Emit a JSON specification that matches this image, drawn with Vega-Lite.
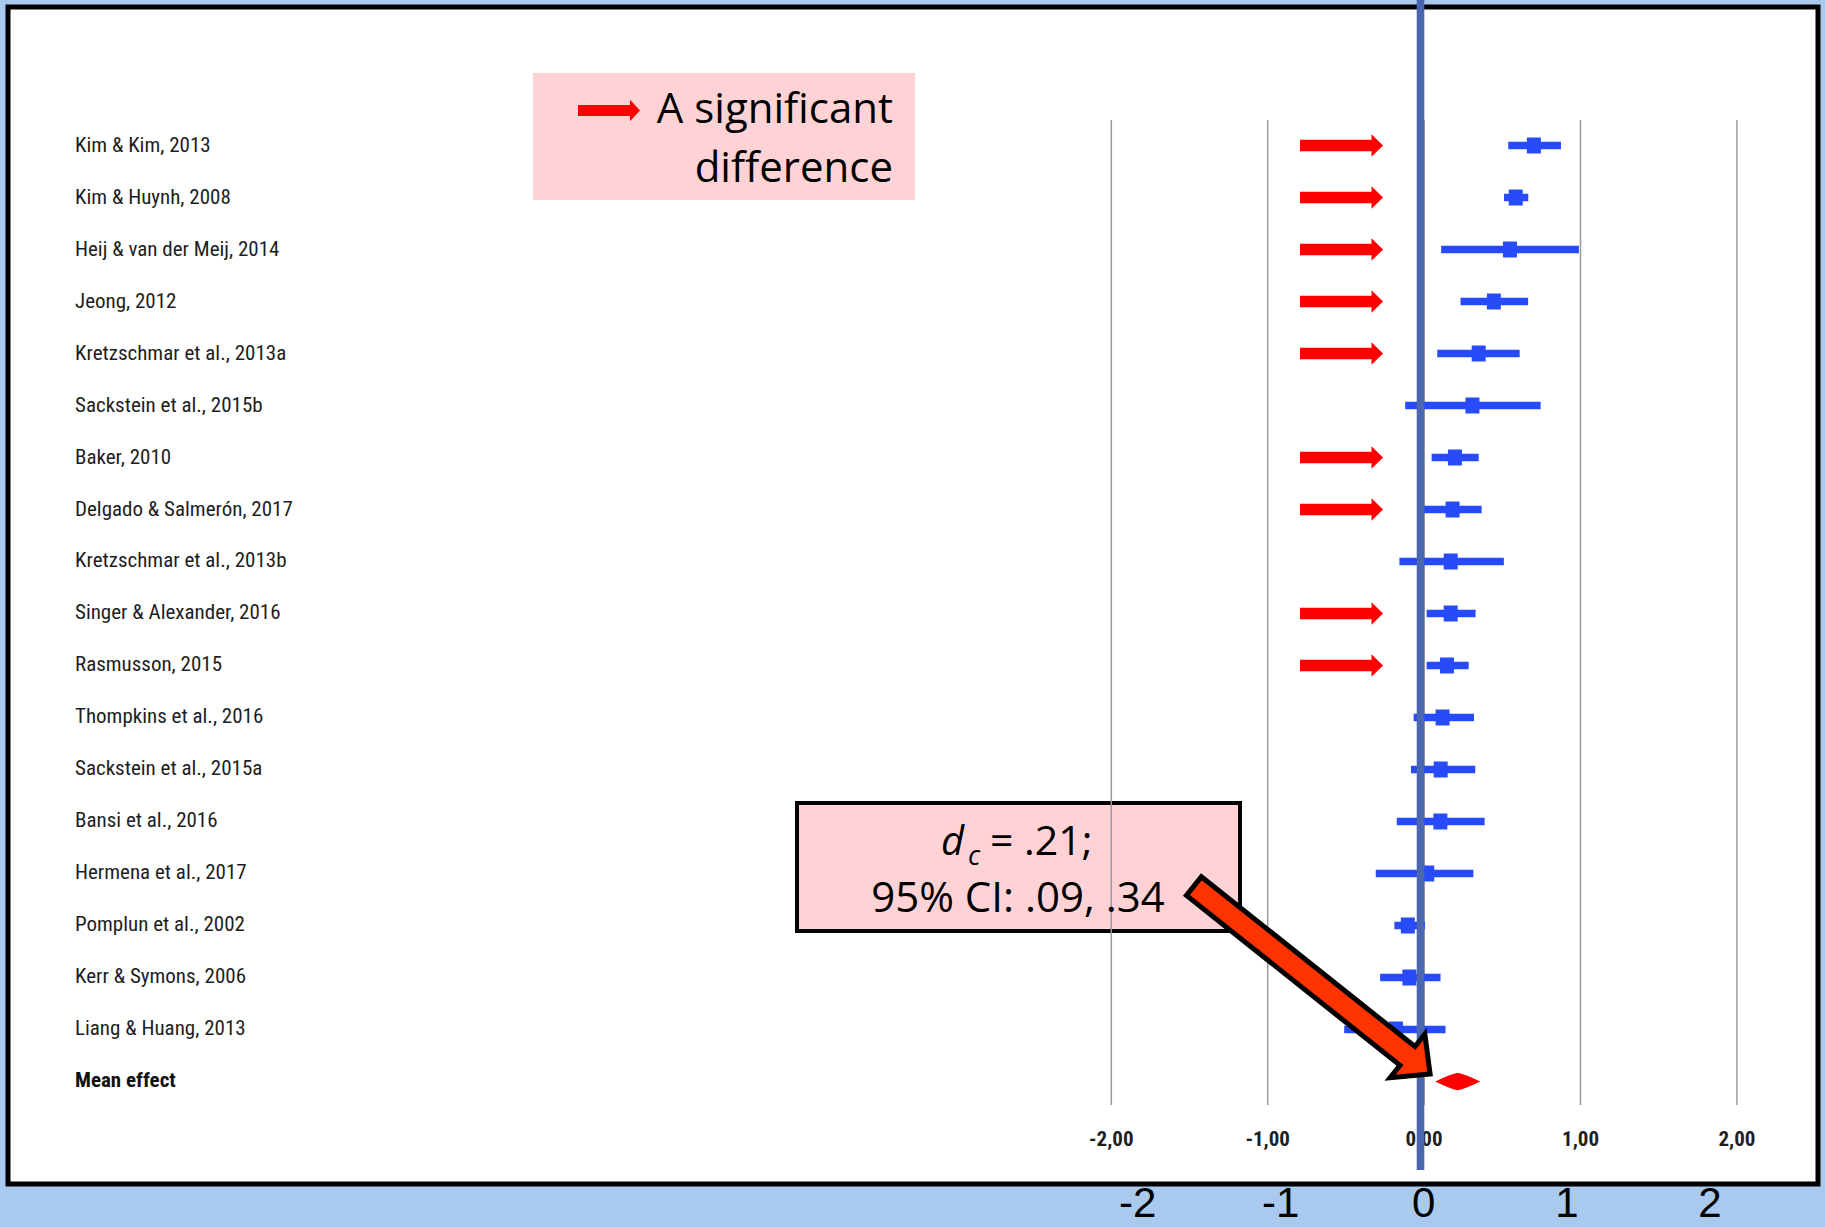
{
  "$schema": "https://vega.github.io/schema/vega-lite/v6.json",
  "width": 1810,
  "height": 1177,
  "autosize": {"type": "none"},
  "padding": {"left": 8, "top": 7, "right": 7, "bottom": 43},
  "background": "#a9caee",
  "config": {"view": {"fill": "white", "stroke": "black", "strokeWidth": 5}},
  "datasets": {
    "studies": [
      {"row": 0, "study": "Kim & Kim, 2013", "est": 0.702, "lo": 0.538, "hi": 0.875, "sig": true},
      {"row": 1, "study": "Kim & Huynh, 2008", "est": 0.586, "lo": 0.511, "hi": 0.666, "sig": true},
      {"row": 2, "study": "Heij & van der Meij, 2014", "est": 0.549, "lo": 0.109, "hi": 0.99, "sig": true},
      {"row": 3, "study": "Jeong, 2012", "est": 0.446, "lo": 0.233, "hi": 0.665, "sig": true},
      {"row": 4, "study": "Kretzschmar et al., 2013a", "est": 0.349, "lo": 0.084, "hi": 0.611, "sig": true},
      {"row": 5, "study": "Sackstein et al., 2015b", "est": 0.309, "lo": -0.121, "hi": 0.745, "sig": false},
      {"row": 6, "study": "Baker, 2010", "est": 0.197, "lo": 0.048, "hi": 0.349, "sig": true},
      {"row": 7, "study": "Delgado & Salmerón, 2017", "est": 0.182, "lo": 0.0, "hi": 0.368, "sig": true},
      {"row": 8, "study": "Kretzschmar et al., 2013b", "est": 0.17, "lo": -0.158, "hi": 0.51, "sig": false},
      {"row": 9, "study": "Singer & Alexander, 2016", "est": 0.17, "lo": 0.016, "hi": 0.329, "sig": true},
      {"row": 10, "study": "Rasmusson, 2015", "est": 0.146, "lo": 0.016, "hi": 0.285, "sig": true},
      {"row": 11, "study": "Thompkins et al., 2016", "est": 0.118, "lo": -0.067, "hi": 0.319, "sig": false},
      {"row": 12, "study": "Sackstein et al., 2015a", "est": 0.106, "lo": -0.084, "hi": 0.327, "sig": false},
      {"row": 13, "study": "Bansi et al., 2016", "est": 0.104, "lo": -0.175, "hi": 0.387, "sig": false},
      {"row": 14, "study": "Hermena et al., 2017", "est": 0.02, "lo": -0.309, "hi": 0.315, "sig": false},
      {"row": 15, "study": "Pomplun et al., 2002", "est": -0.104, "lo": -0.19, "hi": 0.006, "sig": false},
      {"row": 16, "study": "Kerr & Symons, 2006", "est": -0.094, "lo": -0.281, "hi": 0.105, "sig": false},
      {"row": 17, "study": "Liang & Huang, 2013", "est": -0.18, "lo": -0.511, "hi": 0.137, "sig": false}
    ],
    "mean": [{"row": 18, "study": "Mean effect", "est": 0.215, "lo": 0.074, "hi": 0.358}],
    "ticks": [
      {"tick": -2, "label": "-2,00"},
      {"tick": -1, "label": "-1,00"},
      {"tick": 0, "label": "0,00"},
      {"tick": 1, "label": "1,00"},
      {"tick": 2, "label": "2,00"}
    ],
    "outer": [
      {"v": -2, "label": "-2"},
      {"v": -1, "label": "-1"},
      {"v": 0, "label": "0"},
      {"v": 1, "label": "1"},
      {"v": 2, "label": "2"}
    ],
    "one": [{}]
  },
  "layer": [
    {
      "layer": [
        {
          "data": {"name": "one"},
          "mark": {"type": "rect", "fill": "#ffd3d5"},
          "encoding": {
            "x": {"datum": -5.6975, "type": "quantitative", "scale": {"domain": [-9.0543, 2.5185], "nice": false, "zero": false}, "axis": null},
            "x2": {"datum": -3.2551},
            "y": {"datum": -1.3942, "type": "quantitative", "scale": {"domain": [-2.6635, 19.9712], "reverse": true, "nice": false, "zero": false}, "axis": null},
            "y2": {"datum": 1.0481}
          }
        },
        {
          "data": {"name": "one"},
          "mark": {"type": "rect", "fill": "#ffd3d5", "stroke": "black", "strokeWidth": 4},
          "encoding": {
            "x": {"datum": -4.0096, "type": "quantitative", "scale": {"domain": [-9.0543, 2.5185], "nice": false, "zero": false}, "axis": null},
            "x2": {"datum": -1.1771},
            "y": {"datum": 12.6442, "type": "quantitative", "scale": {"domain": [-2.6635, 19.9712], "reverse": true, "nice": false, "zero": false}, "axis": null},
            "y2": {"datum": 15.1058}
          }
        },
        {
          "data": {"name": "ticks"},
          "mark": {"type": "rule", "color": "#9a9a9a", "strokeWidth": 1.5},
          "encoding": {
            "x": {"field": "tick", "type": "quantitative", "scale": {"domain": [-9.0543, 2.5185], "nice": false, "zero": false}, "axis": null},
            "y": {"datum": -0.4904, "type": "quantitative", "scale": {"domain": [-2.6635, 19.9712], "reverse": true, "nice": false, "zero": false}, "axis": null},
            "y2": {"datum": 18.4519}
          }
        },
        {
          "data": {"name": "ticks"},
          "mark": {"type": "text", "font": "Liberation Sans Narrow, Roboto Condensed, DejaVu Sans Condensed, sans-serif", "fontSize": 21, "fontWeight": "bold", "color": "#1e1e1e", "align": "center", "baseline": "middle"},
          "encoding": {
            "x": {"field": "tick", "type": "quantitative", "scale": {"domain": [-9.0543, 2.5185], "nice": false, "zero": false}, "axis": null},
            "y": {"datum": 19.125, "type": "quantitative", "scale": {"domain": [-2.6635, 19.9712], "reverse": true, "nice": false, "zero": false}, "axis": null},
            "text": {"field": "label"}
          }
        },
        {
          "data": {"name": "studies"},
          "mark": {"type": "rule", "color": "#284bfa", "strokeWidth": 7.5, "strokeCap": "butt"},
          "encoding": {
            "x": {"field": "lo", "type": "quantitative", "scale": {"domain": [-9.0543, 2.5185], "nice": false, "zero": false}, "axis": null},
            "x2": {"field": "hi"},
            "y": {"field": "row", "type": "quantitative", "scale": {"domain": [-2.6635, 19.9712], "reverse": true, "nice": false, "zero": false}, "axis": null}
          }
        },
        {
          "data": {"name": "studies"},
          "mark": {"type": "point", "shape": "M-0.875,-1L0.875,-1L0.875,1L-0.875,1Z", "filled": true, "size": 256, "color": "#284bfa", "opacity": 1},
          "encoding": {
            "x": {"field": "est", "type": "quantitative", "scale": {"domain": [-9.0543, 2.5185], "nice": false, "zero": false}, "axis": null},
            "y": {"field": "row", "type": "quantitative", "scale": {"domain": [-2.6635, 19.9712], "reverse": true, "nice": false, "zero": false}, "axis": null}
          }
        },
        {
          "data": {"name": "mean"},
          "mark": {"type": "point", "shape": "M-1,0Q-0.35,-0.32 0,-0.39Q0.35,-0.32 1,0Q0.35,0.32 0,0.39Q-0.35,0.32 -1,0Z", "filled": true, "size": 2025, "color": "#ff0000", "opacity": 1},
          "encoding": {
            "x": {"field": "est", "type": "quantitative", "scale": {"domain": [-9.0543, 2.5185], "nice": false, "zero": false}, "axis": null},
            "y": {"field": "row", "type": "quantitative", "scale": {"domain": [-2.6635, 19.9712], "reverse": true, "nice": false, "zero": false}, "axis": null}
          }
        },
        {
          "data": {"name": "studies"},
          "transform": [{"filter": "datum.sig"}],
          "mark": {"type": "point", "shape": "M-1,-0.141L0.723,-0.141L0.723,-0.273L1,0L0.723,0.273L0.723,0.141L-1,0.141Z", "filled": true, "size": 6889, "color": "#ff0000", "opacity": 1},
          "encoding": {
            "x": {"datum": -0.5281, "type": "quantitative", "scale": {"domain": [-9.0543, 2.5185], "nice": false, "zero": false}, "axis": null},
            "y": {"field": "row", "type": "quantitative", "scale": {"domain": [-2.6635, 19.9712], "reverse": true, "nice": false, "zero": false}, "axis": null}
          }
        },
        {
          "data": {"name": "one"},
          "mark": {"type": "point", "shape": "M-1,-0.177L0.677,-0.177L0.677,-0.35L1,0L0.677,0.35L0.677,0.177L-1,0.177Z", "filled": true, "size": 3844, "color": "#ff0000", "opacity": 1},
          "encoding": {
            "x": {"datum": -5.2116, "type": "quantitative", "scale": {"domain": [-9.0543, 2.5185], "nice": false, "zero": false}, "axis": null},
            "y": {"datum": -0.6731, "type": "quantitative", "scale": {"domain": [-2.6635, 19.9712], "reverse": true, "nice": false, "zero": false}, "axis": null}
          }
        },
        {
          "data": {"name": "one"},
          "mark": {"type": "rule", "color": "#4a66b0", "strokeWidth": 7.6, "strokeCap": "butt"},
          "encoding": {
            "x": {"datum": -0.023, "type": "quantitative", "scale": {"domain": [-9.0543, 2.5185], "nice": false, "zero": false}, "axis": null},
            "y": {"datum": -2.7981, "type": "quantitative", "scale": {"domain": [-2.6635, 19.9712], "reverse": true, "nice": false, "zero": false}, "axis": null},
            "y2": {"datum": 19.7019}
          }
        },
        {
          "data": {"name": "studies"},
          "mark": {"type": "text", "font": "Liberation Sans Narrow, Roboto Condensed, DejaVu Sans Condensed, sans-serif", "fontSize": 21, "color": "#1e1e1e", "align": "left", "baseline": "middle"},
          "encoding": {
            "x": {"datum": -8.626, "type": "quantitative", "scale": {"domain": [-9.0543, 2.5185], "nice": false, "zero": false}, "axis": null},
            "y": {"field": "row", "type": "quantitative", "scale": {"domain": [-2.6635, 19.9712], "reverse": true, "nice": false, "zero": false}, "axis": null},
            "text": {"field": "study"}
          }
        },
        {
          "data": {"name": "mean"},
          "mark": {"type": "text", "font": "Liberation Sans Narrow, Roboto Condensed, DejaVu Sans Condensed, sans-serif", "fontSize": 21, "fontWeight": "bold", "color": "#111111", "align": "left", "baseline": "middle"},
          "encoding": {
            "x": {"datum": -8.626, "type": "quantitative", "scale": {"domain": [-9.0543, 2.5185], "nice": false, "zero": false}, "axis": null},
            "y": {"field": "row", "type": "quantitative", "scale": {"domain": [-2.6635, 19.9712], "reverse": true, "nice": false, "zero": false}, "axis": null},
            "text": {"field": "study"}
          }
        },
        {
          "data": {"name": "one"},
          "mark": {"type": "text", "text": "A significant", "font": "Open Sans", "fontSize": 42, "color": "black", "align": "right", "baseline": "alphabetic"},
          "encoding": {
            "x": {"datum": -3.3958, "type": "quantitative", "scale": {"domain": [-9.0543, 2.5185], "nice": false, "zero": false}, "axis": null},
            "y": {"datum": -0.4269, "type": "quantitative", "scale": {"domain": [-2.6635, 19.9712], "reverse": true, "nice": false, "zero": false}, "axis": null}
          }
        },
        {
          "data": {"name": "one"},
          "mark": {"type": "text", "text": "difference", "font": "Open Sans", "fontSize": 42, "color": "black", "align": "right", "baseline": "alphabetic"},
          "encoding": {
            "x": {"datum": -3.3958, "type": "quantitative", "scale": {"domain": [-9.0543, 2.5185], "nice": false, "zero": false}, "axis": null},
            "y": {"datum": 0.6962, "type": "quantitative", "scale": {"domain": [-2.6635, 19.9712], "reverse": true, "nice": false, "zero": false}, "axis": null}
          }
        },
        {
          "data": {"name": "one"},
          "mark": {"type": "text", "text": "d", "font": "Open Sans", "fontStyle": "italic", "fontSize": 40, "color": "black", "align": "left", "baseline": "alphabetic"},
          "encoding": {
            "x": {"datum": -3.0889, "type": "quantitative", "scale": {"domain": [-9.0543, 2.5185], "nice": false, "zero": false}, "axis": null},
            "y": {"datum": 13.6442, "type": "quantitative", "scale": {"domain": [-2.6635, 19.9712], "reverse": true, "nice": false, "zero": false}, "axis": null}
          }
        },
        {
          "data": {"name": "one"},
          "mark": {"type": "text", "text": "c", "font": "Open Sans", "fontStyle": "italic", "fontSize": 27, "color": "black", "align": "left", "baseline": "alphabetic"},
          "encoding": {
            "x": {"datum": -2.9163, "type": "quantitative", "scale": {"domain": [-9.0543, 2.5185], "nice": false, "zero": false}, "axis": null},
            "y": {"datum": 13.8365, "type": "quantitative", "scale": {"domain": [-2.6635, 19.9712], "reverse": true, "nice": false, "zero": false}, "axis": null}
          }
        },
        {
          "data": {"name": "one"},
          "mark": {"type": "text", "text": "= .21;", "font": "Open Sans", "fontSize": 41, "color": "black", "align": "left", "baseline": "alphabetic"},
          "encoding": {
            "x": {"datum": -2.7756, "type": "quantitative", "scale": {"domain": [-9.0543, 2.5185], "nice": false, "zero": false}, "axis": null},
            "y": {"datum": 13.6442, "type": "quantitative", "scale": {"domain": [-2.6635, 19.9712], "reverse": true, "nice": false, "zero": false}, "axis": null}
          }
        },
        {
          "data": {"name": "one"},
          "mark": {"type": "text", "text": "95% CI: .09, .34", "font": "Open Sans", "fontSize": 42, "color": "black", "align": "center", "baseline": "alphabetic"},
          "encoding": {
            "x": {"datum": -2.5965, "type": "quantitative", "scale": {"domain": [-9.0543, 2.5185], "nice": false, "zero": false}, "axis": null},
            "y": {"datum": 14.7346, "type": "quantitative", "scale": {"domain": [-2.6635, 19.9712], "reverse": true, "nice": false, "zero": false}, "axis": null}
          }
        },
        {
          "data": {"name": "one"},
          "mark": {"type": "point", "shape": "M-1,-0.0795L0.8085,-0.0795L0.8085,-0.185L1,0L0.8085,0.185L0.8085,0.0795L-1,0.0795Z", "filled": true, "size": 91083, "angle": 38.5, "fill": "#ff3300", "stroke": "black", "strokeWidth": 5, "opacity": 1, "fillOpacity": 1, "strokeOpacity": 1},
          "encoding": {
            "x": {"datum": -0.7168, "type": "quantitative", "scale": {"domain": [-9.0543, 2.5185], "nice": false, "zero": false}, "axis": null},
            "y": {"datum": 16.0481, "type": "quantitative", "scale": {"domain": [-2.6635, 19.9712], "reverse": true, "nice": false, "zero": false}, "axis": null}
          }
        }
      ]
    },
    {
      "data": {"name": "outer"},
      "mark": {"type": "text", "font": "Liberation Sans, Arial, sans-serif", "fontSize": 42, "color": "black", "align": "center", "baseline": "bottom"},
      "encoding": {
        "x": {"field": "v", "type": "quantitative", "scale": {"domain": [-9.8986, 2.7561], "nice": false, "zero": false}, "axis": null},
        "y": {"datum": 20.7788, "type": "quantitative", "scale": {"domain": [-2.6635, 19.9712], "reverse": true, "nice": false, "zero": false}, "axis": null},
        "text": {"field": "label"}
      }
    }
  ],
  "resolve": {"scale": {"x": "independent"}}
}
